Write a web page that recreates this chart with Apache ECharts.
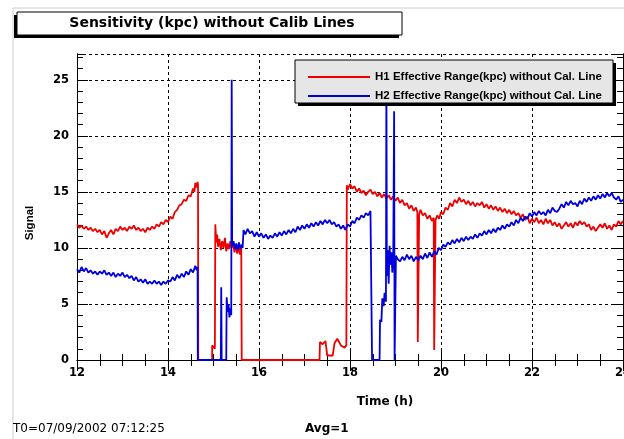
<!DOCTYPE html>
<html>
<head>
<meta charset="utf-8">
<script src="https://cdn.jsdelivr.net/npm/echarts@6/dist/echarts.min.js"></script>
<style>html,body{margin:0;padding:0;background:#fff;}#c{width:624px;height:439px;}</style>
</head>
<body>
<div id="c"></div>
<script>
const titleText = 'Sensitivity (kpc) without Calib Lines';
const seriesNames = ['H1 Effective Range(kpc) without Cal. Line', 'H2 Effective Range(kpc) without Cal. Line'];
const xRange = [12, 24];
const yRange = [0, 27.3];
const footLeft = 'T0=07/09/2002 07:12:25';
const footMid = 'Avg=1';

const h1 = [
[12.00,12.1],[12.05,11.8],[12.10,12.0],[12.15,11.7],[12.20,11.9],[12.25,11.6],[12.30,11.8],[12.35,11.5],[12.40,11.7],[12.45,11.4],
[12.50,11.6],[12.55,11.2],[12.60,11.5],[12.65,10.9],[12.70,11.3],[12.75,11.6],[12.80,11.2],[12.85,11.7],[12.90,11.5],[12.95,11.9],
[13.00,11.6],[13.05,11.8],[13.10,11.5],[13.15,11.9],[13.20,11.7],[13.25,12.0],[13.30,11.6],[13.35,11.8],[13.40,11.5],[13.45,11.7],
[13.50,11.4],[13.55,11.8],[13.60,11.6],[13.65,11.9],[13.70,11.7],[13.75,12.1],[13.80,11.9],[13.85,12.3],[13.90,12.1],[13.95,12.5],
[14.00,12.3],[14.05,12.8],[14.10,12.6],[14.15,13.2],[14.20,13.4],[14.25,13.8],[14.30,13.9],[14.35,14.3],[14.40,14.2],[14.45,14.7],
[14.50,14.6],[14.55,15.3],[14.58,15.0],[14.60,15.8],[14.63,15.4],[14.65,15.9],[14.66,15.6],[14.665,0],
[14.97,0],[14.97,1.3],[15.03,1.0],[15.04,12.1],[15.06,10.5],[15.08,11.2],[15.10,10.1],[15.13,10.8],[15.16,9.8],[15.19,10.6],
[15.22,10.0],[15.25,10.9],[15.28,9.7],[15.31,10.4],[15.34,9.9],[15.37,10.6],[15.40,10.0],[15.43,10.5],[15.46,9.6],[15.49,10.3],
[15.52,9.5],[15.55,10.2],[15.58,9.4],[15.61,10.0],[15.62,0],
[17.33,0],[17.34,1.6],[17.40,1.4],[17.46,1.7],[17.50,0.4],[17.62,0.4],[17.66,1.5],[17.72,1.9],[17.80,1.3],[17.88,1.1],[17.92,1.3],
[17.93,15.6],[17.95,15.2],[18.00,15.7],[18.05,15.3],[18.10,15.5],[18.15,15.0],[18.20,15.3],[18.25,14.9],[18.30,15.1],[18.35,14.7],
[18.40,15.0],[18.45,15.2],[18.50,14.8],[18.55,15.0],[18.60,14.6],[18.65,14.9],[18.70,14.5],[18.75,14.8],[18.80,14.4],[18.85,14.7],
[18.90,14.3],[18.95,14.6],[19.00,14.2],[19.05,14.5],[19.10,14.0],[19.15,14.3],[19.20,13.8],[19.25,14.0],[19.30,13.5],[19.35,13.8],
[19.40,13.3],[19.45,13.6],[19.48,13.2],[19.49,1.6],[19.51,1.6],[19.52,13.0],[19.55,13.4],[19.60,12.9],[19.65,13.1],[19.70,12.6],
[19.75,12.9],[19.80,12.4],[19.84,12.7],[19.85,0.9],[19.87,0.9],[19.88,12.5],[19.92,12.9],[19.96,12.6],
[20.00,13.2],[20.05,13.0],[20.10,13.6],[20.15,13.4],[20.20,14.0],[20.25,13.7],[20.30,14.3],[20.35,14.0],[20.40,14.5],[20.45,14.1],
[20.50,14.3],[20.55,13.9],[20.60,14.2],[20.65,13.8],[20.70,14.1],[20.75,13.7],[20.80,14.0],[20.85,13.8],[20.90,14.1],[20.95,13.6],
[21.00,13.9],[21.05,13.5],[21.10,13.8],[21.15,13.4],[21.20,13.7],[21.25,13.3],[21.30,13.6],[21.35,13.2],[21.40,13.5],[21.45,13.1],
[21.50,13.4],[21.55,13.0],[21.60,13.3],[21.65,12.9],[21.70,13.1],[21.75,12.7],[21.80,13.0],[21.85,12.5],[21.90,12.8],[21.95,12.2],
[22.00,12.6],[22.05,12.3],[22.10,12.7],[22.15,12.2],[22.20,12.5],[22.25,12.1],[22.30,12.6],[22.35,12.2],[22.40,12.5],[22.45,12.0],
[22.50,12.3],[22.55,11.9],[22.60,12.2],[22.65,11.7],[22.70,12.0],[22.75,12.3],[22.80,11.9],[22.85,12.2],[22.90,11.8],[22.95,12.3],
[23.00,12.0],[23.05,12.4],[23.10,12.1],[23.15,12.3],[23.20,11.9],[23.25,12.1],[23.30,11.6],[23.35,11.9],[23.40,11.5],[23.45,11.8],
[23.50,12.1],[23.55,11.8],[23.60,12.2],[23.65,11.7],[23.70,12.0],[23.75,11.6],[23.80,12.1],[23.85,11.9],[23.90,12.4],[23.95,12.1],
[24.00,12.4]
];

const h2 = [
[12.00,8.1],[12.05,7.8],[12.10,8.3],[12.15,7.9],[12.20,8.2],[12.25,7.8],[12.30,8.0],[12.35,7.7],[12.40,7.9],[12.45,7.6],
[12.50,7.9],[12.55,7.7],[12.60,8.0],[12.65,7.6],[12.70,7.8],[12.75,7.5],[12.80,7.8],[12.85,7.4],[12.90,7.7],[12.95,7.5],
[13.00,7.8],[13.05,7.4],[13.10,7.6],[13.15,7.3],[13.20,7.5],[13.25,7.1],[13.30,7.4],[13.35,7.0],[13.40,7.2],[13.45,6.9],
[13.50,7.2],[13.55,6.8],[13.60,7.0],[13.65,6.8],[13.70,7.1],[13.75,6.8],[13.80,7.0],[13.85,6.7],[13.90,7.0],[13.95,6.8],
[14.00,7.1],[14.05,7.0],[14.10,7.4],[14.15,7.1],[14.20,7.6],[14.25,7.3],[14.30,7.7],[14.35,7.4],[14.40,7.9],[14.45,7.6],
[14.50,8.1],[14.55,7.8],[14.60,8.4],[14.63,8.0],[14.65,8.3],[14.655,0],
[15.16,0],[15.17,6.5],[15.18,0],[15.28,0],[15.29,5.6],[15.31,4.3],[15.33,5.0],[15.35,3.8],[15.37,4.6],[15.39,4.0],
[15.40,25.0],[15.41,10.2],[15.44,10.6],[15.47,9.9],[15.50,10.4],[15.53,9.8],[15.56,10.5],[15.59,9.9],[15.62,10.3],[15.64,10.0],
[15.66,11.6],[15.70,11.2],[15.75,11.7],[15.80,11.3],[15.85,11.5],[15.90,11.0],[15.95,11.4],[16.00,11.0],[16.05,11.3],[16.10,10.9],
[16.15,11.2],[16.20,10.8],[16.25,11.1],[16.30,10.9],[16.35,11.3],[16.40,11.0],[16.45,11.4],[16.50,11.1],[16.55,11.5],[16.60,11.2],
[16.65,11.6],[16.70,11.3],[16.75,11.7],[16.80,11.4],[16.85,11.9],[16.90,11.6],[16.95,12.0],[17.00,11.7],[17.05,12.1],[17.10,11.8],
[17.15,12.2],[17.20,11.9],[17.25,12.3],[17.30,12.0],[17.35,12.4],[17.40,12.1],[17.45,12.5],[17.50,12.2],[17.55,12.5],[17.60,12.1],
[17.65,12.3],[17.70,11.9],[17.75,12.1],[17.80,11.7],[17.85,12.0],[17.90,11.6],[17.95,12.1],[18.00,11.9],[18.05,12.4],[18.10,12.2],
[18.15,12.7],[18.20,12.5],[18.25,12.9],[18.30,12.7],[18.35,13.1],[18.40,12.9],[18.45,13.3],[18.48,13.4],[18.485,0],
[18.65,0],[18.66,3.6],[18.69,3.4],[18.71,5.5],[18.74,4.8],[18.76,6.0],[18.79,5.2],[18.80,26.0],[18.81,7.5],[18.83,9.8],
[18.85,6.8],[18.87,10.2],[18.89,8.5],[18.91,9.6],[18.93,7.8],[18.95,9.0],[18.97,22.2],[18.98,0],[19.00,0],[19.01,9.3],
[19.05,9.0],[19.10,8.8],[19.15,9.2],[19.20,8.9],[19.25,9.4],[19.30,9.0],[19.35,9.3],[19.40,8.8],[19.45,9.2],
[19.50,8.9],[19.55,9.3],[19.60,9.0],[19.65,9.5],[19.70,9.1],[19.75,9.6],[19.80,9.2],[19.85,9.7],[19.90,9.4],[19.95,10.0],
[20.00,9.8],[20.05,10.3],[20.10,10.1],[20.15,10.5],[20.20,10.3],[20.25,10.7],[20.30,10.4],[20.35,10.8],[20.40,10.5],[20.45,10.9],
[20.50,10.6],[20.55,11.0],[20.60,10.7],[20.65,11.0],[20.70,10.8],[20.75,11.2],[20.80,10.9],[20.85,11.3],[20.90,11.1],[20.95,11.5],
[21.00,11.2],[21.05,11.6],[21.10,11.3],[21.15,11.7],[21.20,11.4],[21.25,11.8],[21.30,11.6],[21.35,12.0],[21.40,11.7],[21.45,12.1],
[21.50,11.9],[21.55,12.3],[21.60,12.0],[21.65,12.5],[21.70,12.2],[21.75,12.7],[21.80,12.4],[21.85,12.8],[21.90,12.6],[21.95,13.1],
[22.00,12.8],[22.05,13.2],[22.10,12.9],[22.15,13.3],[22.20,13.0],[22.25,13.2],[22.30,12.9],[22.35,13.4],[22.40,13.1],[22.45,13.6],
[22.50,13.3],[22.55,13.2],[22.60,13.5],[22.65,13.9],[22.70,13.6],[22.75,14.1],[22.80,13.8],[22.85,14.2],[22.90,13.9],[22.95,14.0],
[23.00,13.7],[23.05,14.2],[23.10,13.9],[23.15,14.4],[23.20,14.1],[23.25,14.5],[23.30,14.2],[23.35,14.6],[23.40,14.3],[23.45,14.7],
[23.50,14.4],[23.55,14.8],[23.60,14.5],[23.65,14.9],[23.70,14.6],[23.75,14.9],[23.80,14.5],[23.85,14.3],[23.90,14.6],[23.95,14.1],
[24.00,14.3]
];

const chart = echarts.init(document.getElementById('c'), null, {renderer: 'canvas'});
const tickFont = {fontFamily: 'DejaVu Sans', fontWeight: 'bold', fontSize: 11.5, color: '#000'};
const lineBlack = {color: '#000', width: 1};

function xAx(pos, labels) {
  return {
    type: 'value', min: xRange[0], max: xRange[1], interval: 2, position: pos,
    axisLine: {show: true, lineStyle: lineBlack},
    axisTick: {show: true, inside: true, length: 11, lineStyle: lineBlack},
    minorTick: {show: true, splitNumber: 4, length: 6, lineStyle: lineBlack},
    splitLine: {show: labels, lineStyle: {color: '#000', width: 1, type: [3, 3]}},
    axisLabel: labels ? Object.assign({margin: 7, hideOverlap: false}, tickFont) : {show: false}
  };
}
function yAx(pos, major) {
  return {
    type: 'value', min: yRange[0], max: yRange[1], interval: major ? 5 : 1, position: pos,
    axisLine: {show: true, lineStyle: lineBlack},
    axisTick: {show: true, inside: true, length: major ? 11 : 6, lineStyle: lineBlack},
    splitLine: {show: major && pos === 'left', lineStyle: {color: '#000', width: 1, type: [3, 3]}},
    axisLabel: (major && pos === 'left') ? Object.assign({margin: 8, showMaxLabel: false}, tickFont) : {show: false}
  };
}

chart.setOption({
  animation: false,
  backgroundColor: '#fff',
  grid: {left: 77, right: 1, top: 54, bottom: 79, containLabel: false, outerBoundsMode: 'none'},
  xAxis: [xAx('bottom', true), xAx('top', false)],
  yAxis: [yAx('left', true), yAx('left', false), yAx('right', true), yAx('right', false)],
  legend: {
    orient: 'vertical', left: 303, top: 66, itemWidth: 62, itemHeight: 2, itemGap: 7,
    icon: 'rect', z: 30,
    textStyle: {fontFamily: 'Liberation Sans', fontWeight: 'bold', fontSize: 11.5, color: '#000', lineHeight: 12},
    data: seriesNames
  },
  series: [
    {name: seriesNames[0], type: 'line', data: h1, showSymbol: false, symbol: 'none',
     lineStyle: {color: '#ee0000', width: 1.8}, itemStyle: {color: '#ee0000'}, z: 3},
    {name: seriesNames[1], type: 'line', data: h2, showSymbol: false, symbol: 'none',
     lineStyle: {color: '#0000dd', width: 1.8}, itemStyle: {color: '#0000dd'}, z: 4}
  ],
  graphic: [
    {type: 'rect', z: -10, shape: {x: 13, y: 8, width: 700, height: 500}, style: {fill: 'none', stroke: '#cccccc', lineWidth: 1}},
    {type: 'rect', z: 20, shape: {x: 14, y: 15, width: 385, height: 23}, style: {fill: '#000'}},
    {type: 'rect', z: 21, shape: {x: 17, y: 12, width: 385, height: 23}, style: {fill: '#fff', stroke: '#000', lineWidth: 1}},
    {type: 'text', z: 22, x: 212, y: 23, style: {text: titleText, fontFamily: 'DejaVu Sans', fontWeight: 'bold', fontSize: 14, fill: '#000', align: 'center', verticalAlign: 'middle'}},
    {type: 'rect', z: 20, shape: {x: 298, y: 63, width: 318, height: 43}, style: {fill: '#000'}},
    {type: 'rect', z: 21, shape: {x: 295, y: 60, width: 318, height: 43}, style: {fill: '#e6e6e6', stroke: '#000', lineWidth: 1}},
    {type: 'text', z: 22, x: 30, y: 223, rotation: Math.PI / 2, style: {text: 'Signal', fontFamily: 'Liberation Sans', fontWeight: 'bold', fontSize: 11.5, fill: '#000', align: 'center', verticalAlign: 'middle'}},
    {type: 'text', z: 22, x: 385, y: 402, style: {text: 'Time (h)', fontFamily: 'DejaVu Sans', fontWeight: 'bold', fontSize: 12, fill: '#000', align: 'center', verticalAlign: 'middle'}},
    {type: 'text', z: 22, x: 13, y: 429, style: {text: footLeft, fontFamily: 'DejaVu Sans', fontSize: 12, fill: '#000', align: 'left', verticalAlign: 'middle'}},
    {type: 'text', z: 22, x: 305, y: 429, style: {text: footMid, fontFamily: 'DejaVu Sans', fontWeight: 'bold', fontSize: 12, fill: '#000', align: 'left', verticalAlign: 'middle'}}
  ]
});
</script>
</body>
</html>
